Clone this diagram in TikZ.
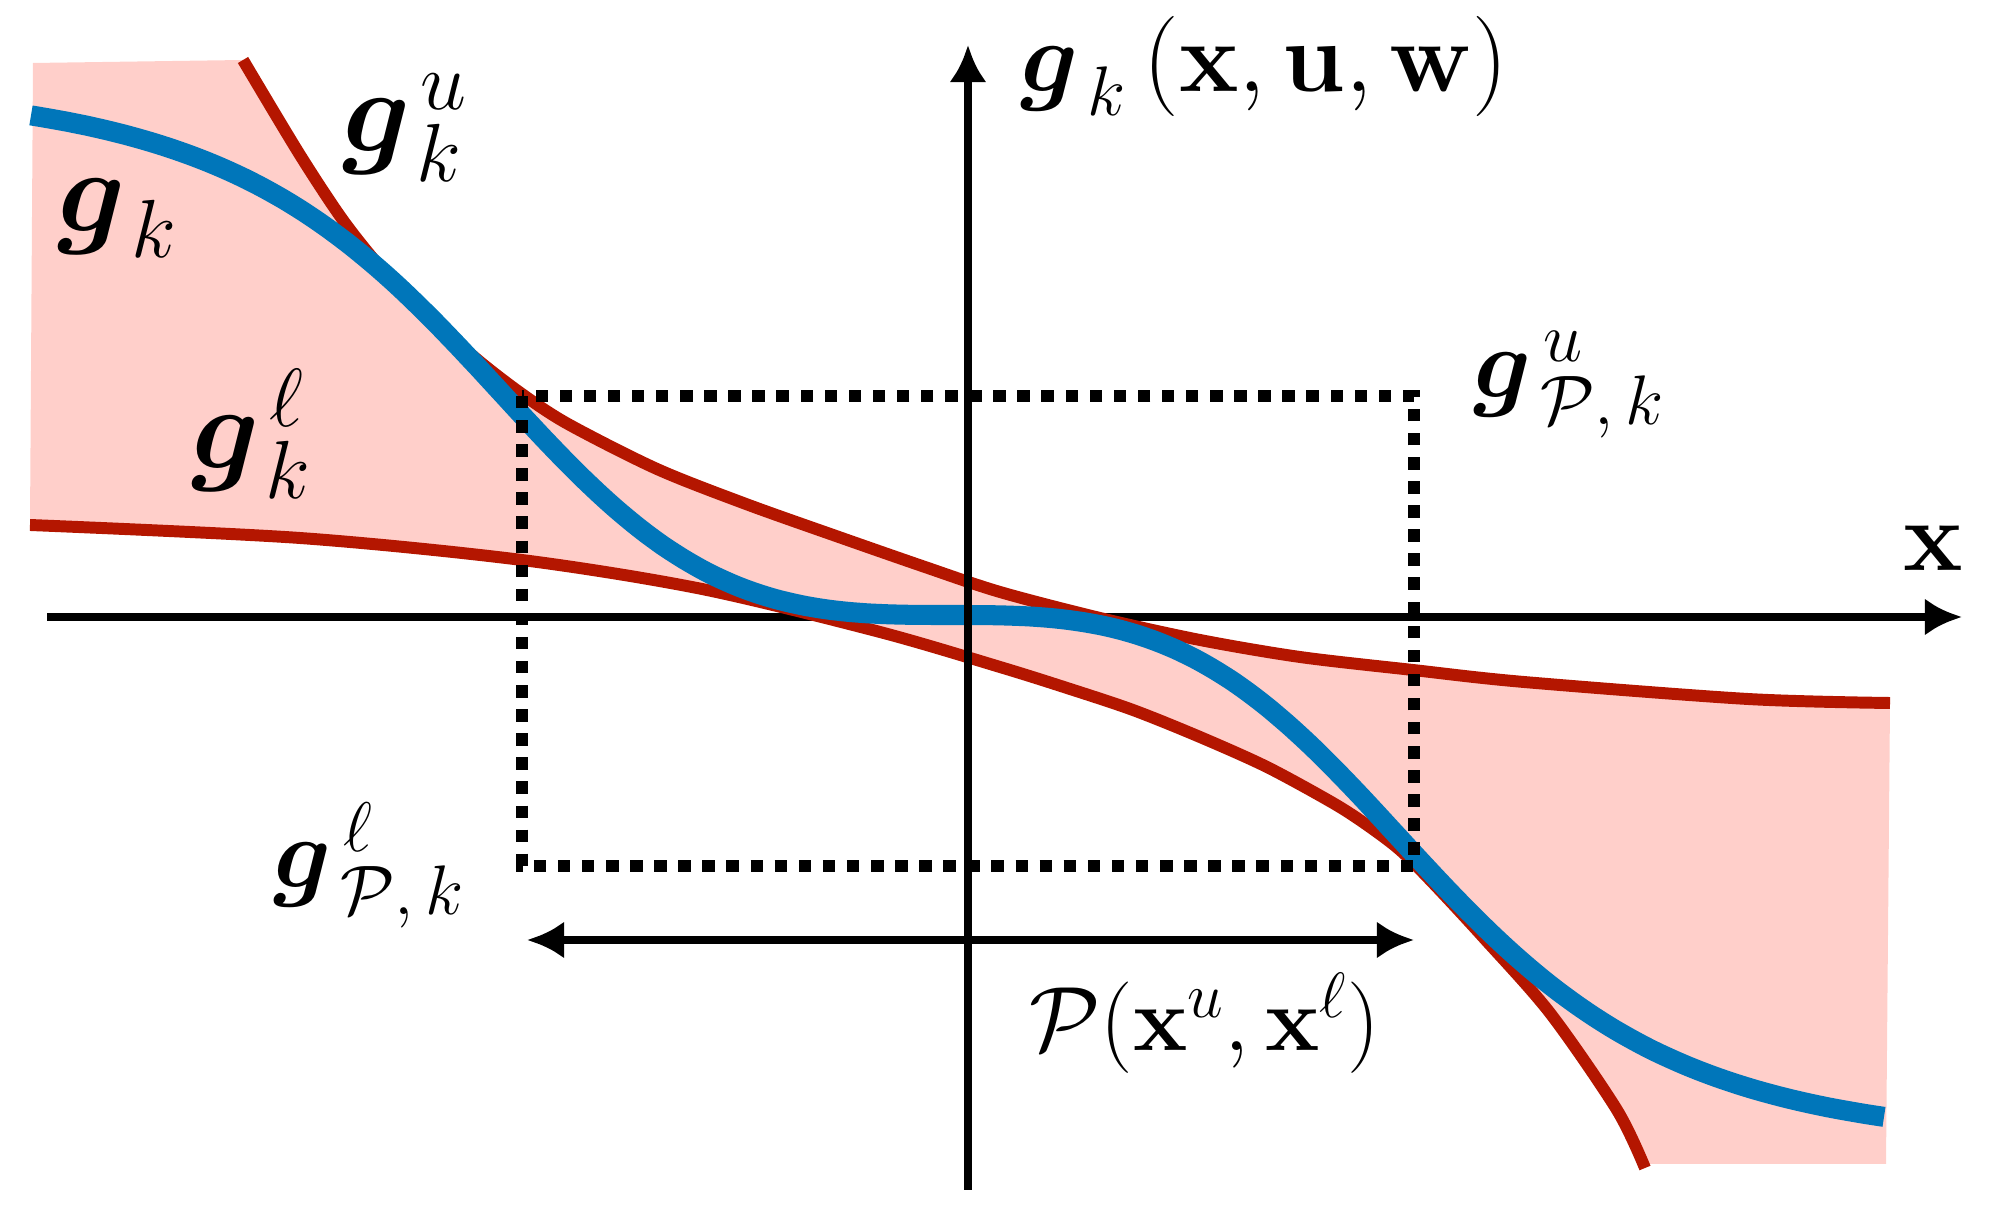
\RequirePackage{fix-cm}
\documentclass[tikz,border=0pt]{standalone}
\usepackage{amsmath,bm}
\usetikzlibrary{arrows.meta}
\definecolor{bandred}{RGB}{180,22,0}
\definecolor{curveblue}{RGB}{0,118,186}
\definecolor{bandpink}{RGB}{255,207,202}
\tikzset{
  axisline/.style={line width=2.3pt,-{Latex[length=0.37cm,width=0.37cm]}},
  rangearrow/.style={line width=2.3pt,{Latex[length=0.37cm,width=0.37cm]}-{Latex[length=0.37cm,width=0.37cm]}},
  boundcurve/.style={bandred,line width=3.4pt},
  truecurve/.style={curveblue,line width=5.7pt},
  boxline/.style={line width=3.55pt,dash pattern=on 3.55pt off 3.3pt},
  biglabel/.style={inner sep=0pt,font=\fontsize{33.5}{40}\selectfont},
  midlabel/.style={inner sep=0pt,font=\fontsize{28.5}{34}\selectfont},
  smalllabel/.style={inner sep=0pt,font=\fontsize{26}{31}\selectfont},
  declare function={
    bu(\t)=(\t-950)/561;
    bv(\t)=bu(\t)*bu(\t)*bu(\t);
    bf(\t)=bv(\t)/(1+abs(bv(\t))^1.5)^(2/3);
    gtrue(\t)=615+535*bf(\t);
  }
}
\newcommand{\lowk}{\raisebox{-2.3pt}{$\scriptstyle k$}}
\newcommand{\upperpts}{(243,60) (300,155) (345,223) (389,277) (434,321) (479,361) (522,394) (568,424) (657,469) (746,504) (836,536) (925,567) (1000,592) (1100,618) (1200,640) (1300,657) (1413,670) (1524,682) (1748,699) (1890,703)}
\newcommand{\lowerpts}{(30,525) (300,538) (522,560) (702,589) (880,632) (1000,667) (1067,688) (1133,710) (1200,737) (1267,767) (1333,803) (1367,825) (1400,850) (1433,883) (1483,937) (1550,1013) (1617,1110) (1645,1168)}
\newcommand{\lowerrev}{(1645,1168) (1617,1110) (1550,1013) (1483,937) (1433,883) (1400,850) (1367,825) (1333,803) (1267,767) (1200,737) (1133,710) (1067,688) (1000,667) (880,632) (702,589) (522,560) (300,538) (30,525)}
\begin{document}
\begin{tikzpicture}[x=0.01cm,y=-0.01cm]
\useasboundingbox (0,0) rectangle (2002,1216);
% pink band between the bounds
\fill[bandpink] (33,63) -- plot[smooth] coordinates {\upperpts}
  -- (1886,1164) -- (1647,1164)
  -- plot[smooth] coordinates {\lowerrev}
  -- cycle;
% horizontal axis
\coordinate (xs) at (47,617);
\coordinate (xe) at (1962,617);
\draw[axisline] (xs) -- (xe);
% bounds
\draw[boundcurve] plot[smooth] coordinates {\upperpts};
\draw[boundcurve] plot[smooth] coordinates {\lowerpts};
% true function
\draw[truecurve] plot[domain=31:1884,samples=200,smooth] (\x,{gtrue(\x)});
% vertical axis
\coordinate (ys) at (968,1190);
\coordinate (ye) at (968,45);
\draw[axisline] (ys) -- (ye);
% dotted box
\coordinate (b1) at (522,396);
\coordinate (b2) at (1414,866);
\draw[boxline] (b1) rectangle (b2);
% range arrow
\coordinate (pl) at (527,940);
\coordinate (pr) at (1414,940);
\draw[rangearrow] (pl) -- (pr);
% labels
\node[biglabel,anchor=base west] (lgk) at (57,232) {$\bm{g}_{\mkern2mu\lowk}$};
\node[biglabel,anchor=base west] (lgu) at (342,152) {$\bm{g}_{\mkern2mu k}^{\mkern2mu u}$};
\node[biglabel,anchor=base west] (lgl) at (191,469) {$\bm{g}_{\mkern2mu k}^{\mkern2mu\ell}$};
\node[midlabel,anchor=base west] (ly) at (1020,92) {$\bm{g}_{\,\lowk}\,(\mathbf{x},\mathbf{u},\mathbf{w})$};
\node[midlabel,anchor=base west] (lx) at (1903,571) {$\mathbf{x}$};
\node[midlabel,anchor=base west] (lpu) at (1473,398) {$\bm{g}^{\,u}_{\,\mathcal{P},\,k}$};
\node[midlabel,anchor=base west] (lpl) at (273,888) {$\bm{g}^{\,\ell}_{\,\mathcal{P},\,k}$};
\node[smalllabel,anchor=base west] (lp) at (1029,1051) {$\mathcal{P}(\mathbf{x}^{u},\mathbf{x}^{\ell})$};
\end{tikzpicture}
\end{document}
